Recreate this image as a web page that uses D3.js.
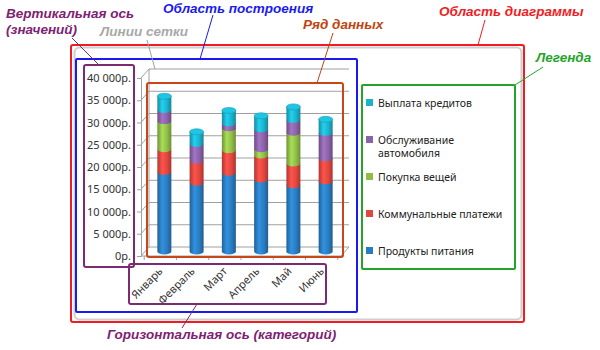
<html>
<head>
  <meta charset="utf-8">
  <title>Элементы диаграммы</title>
  <style>
    body { margin: 0; background: #fff; }
    .note { font-family: "Liberation Sans", Arial, sans-serif; font-size: 13.5px; font-weight: bold; font-style: italic; }
    .axis text { font-family: "Noto Sans", sans-serif; font-size: 11px; fill: #333; }
    .legend text { font-family: "Noto Sans", sans-serif; font-size: 10.5px; fill: #222; }
  </style>
  <script src="https://d3js.org/d3.v7.min.js"></script>
</head>
<body>
  <div id="chart"></div>

  <script>
    // Data
    const months = ["Январь", "Февраль", "Март", "Апрель", "Май", "Июнь"];
    const seriesNames = ["Продукты питания", "Коммунальные платежи", "Покупка вещей", "Обслуживание автомобиля", "Выплата кредитов"];
    const food = [17900, 15500, 17700, 16200, 14900, 15800];
    const utilities = [5100, 4900, 5100, 5400, 4900, 5100];
    const goods = [6300, 0, 4900, 1400, 6900, 0];
    const car = [2500, 3800, 1100, 4500, 2900, 5800];
    const credit = [3100, 2700, 2900, 3000, 2900, 3000];
    const yTicks = [0, 5000, 10000, 15000, 20000, 25000, 30000, 35000, 40000];
    const colors = ["#2a7cc0", "#e0473f", "#8fbd48", "#8b63a8", "#1cb2cc"];

    const seriesValues = [food, utilities, goods, car, credit];
    const keys = ["s0", "s1", "s2", "s3", "s4"];
    const table = months.map((m, i) => {
      const row = { month: m };
      keys.forEach((k, j) => row[k] = seriesValues[j][i]);
      return row;
    });

    const W = 600, H = 350;
    const svg = d3.select("#chart").append("svg")
      .attr("width", W).attr("height", H);
    const defs = svg.append("defs");

    // 3D offsets (front -> back wall, front -> middle depth)
    const dx = 8, dy = -9;
    const mx = 4, my = -4.5;

    const y = d3.scaleLinear().domain([0, 40000]).range([256, 78]);
    const x = d3.scaleBand().domain(months).range([141, 341]).paddingInner(0).paddingOuter(0.1);
    const x0 = 141, x1 = 341;

    // Excel chart area frame
    svg.append("rect").attr("x", 74.5).attr("y", 47.5).attr("width", 447).attr("height", 272)
      .attr("rx", 5).attr("fill", "#fff").attr("stroke", "#cfcfcf").attr("stroke-width", 2);

    // Walls and gridlines
    const grid = svg.append("g").attr("stroke", "#a0a0a0").attr("stroke-width", 1).attr("fill", "none");
    yTicks.forEach(t => {
      grid.append("line").attr("x1", x0 + dx).attr("x2", x1 + dx)
        .attr("y1", y(t) + dy).attr("y2", y(t) + dy);
      grid.append("line").attr("x1", x0).attr("x2", x0 + dx)
        .attr("y1", y(t)).attr("y2", y(t) + dy);
    });
    grid.append("line").attr("x1", x0 + dx).attr("x2", x0 + dx).attr("y1", y(0) + dy).attr("y2", y(40000) + dy);
    grid.append("line").attr("x1", x0).attr("x2", x1).attr("y1", y(0)).attr("y2", y(0));
    grid.append("line").attr("x1", x1).attr("x2", x1 + dx).attr("y1", y(0)).attr("y2", y(0) + dy);

    // Y axis
    const fmt = v => v === 0 ? "0р." : d3.format(",")(v).replace(/,/g, " ") + "р.";
    const yAxis = svg.append("g").attr("class", "axis")
      .attr("transform", `translate(${x0},0)`)
      .call(d3.axisLeft(y).tickValues(yTicks).tickFormat(fmt).tickSize(4).tickPadding(6));
    yAxis.select(".domain").attr("stroke", "#a0a0a0");
    yAxis.selectAll(".tick line").attr("stroke", "#a0a0a0");

    // X axis (category)
    const xAxis = svg.append("g").attr("class", "axis")
      .attr("transform", `translate(0,${y(0)})`)
      .call(d3.axisBottom(x).tickSize(0).tickPadding(0));
    xAxis.select(".domain").remove();
    xAxis.selectAll(".tick text")
      .attr("text-anchor", "end")
      .attr("dy", 0)
      .attr("transform", "translate(3,16) rotate(-45)");
    months.concat([null]).forEach((m, i) => {
      const xx = m ? x(m) : x(months[months.length - 1]) + x.bandwidth();
      svg.append("line").attr("x1", xx).attr("x2", xx).attr("y1", y(0)).attr("y2", y(0) + 4)
        .attr("stroke", "#a0a0a0");
    });

    // Cylinder gradients
    colors.forEach((c, i) => {
      const g = defs.append("linearGradient").attr("id", "cyl" + i)
        .attr("x1", 0).attr("x2", 1).attr("y1", 0).attr("y2", 0);
      const base = d3.color(c);
      g.append("stop").attr("offset", "0%").attr("stop-color", base.darker(0.7));
      g.append("stop").attr("offset", "35%").attr("stop-color", base.brighter(0.45));
      g.append("stop").attr("offset", "70%").attr("stop-color", base);
      g.append("stop").attr("offset", "100%").attr("stop-color", base.darker(0.8));
    });

    // Stacked cylinders
    const stack = d3.stack().keys(keys)(table);
    const rx = 7, ry = 3;
    const ym = v => y(v) + my;
    const cx = m => x(m) + x.bandwidth() / 2 + mx;
    const bars = svg.append("g");
    stack.forEach((layer, li) => {
      layer.forEach(d => {
        if (d[1] - d[0] <= 0) return;
        const c = cx(d.data.month);
        bars.append("path")
          .attr("d", `M${c - rx},${ym(d[1])} L${c - rx},${ym(d[0])} A${rx},${ry} 0 0 0 ${c + rx},${ym(d[0])} L${c + rx},${ym(d[1])} Z`)
          .attr("fill", `url(#cyl${li})`);
      });
    });
    // top caps
    table.forEach((row, i) => {
      const top = stack[stack.length - 1][i][1];
      bars.append("ellipse").attr("cx", cx(row.month)).attr("cy", ym(top))
        .attr("rx", rx).attr("ry", ry)
        .attr("fill", d3.color(colors[4]).brighter(0.3)).attr("stroke", d3.color(colors[4]).darker(0.4)).attr("stroke-width", 0.6);
    });

    // Legend
    const legendY = [251, 214, 177, 140, 103];
    const legend = svg.append("g").attr("class", "legend");
    seriesNames.forEach((name, i) => {
      const g = legend.append("g").attr("transform", `translate(366,${legendY[i]})`);
      g.append("rect").attr("x", 0).attr("y", -4).attr("width", 7).attr("height", 7).attr("fill", colors[i]);
      const t = g.append("text").attr("x", 12).attr("y", 0).attr("dy", "0.35em");
      if (name === "Обслуживание автомобиля") {
        t.append("tspan").attr("x", 12).text("Обслуживание");
        t.append("tspan").attr("x", 12).attr("dy", "1.3em").text("автомобиля");
      } else {
        t.text(name);
      }
    });

    // Annotation boxes
    const box = (bx, by, bw, bh, color, r) => svg.append("rect")
      .attr("x", bx).attr("y", by).attr("width", bw).attr("height", bh).attr("rx", r)
      .attr("fill", "none").attr("stroke", color).attr("stroke-width", 2);
    box(71, 45, 453, 277, "#f01c24", 2);
    box(76, 59, 281, 253, "#1a1af0", 1);
    box(84, 65, 50, 202, "#7d2a72", 2);
    box(129, 264, 197, 40, "#7d2a72", 2);
    box(147, 83, 196, 174, "#c8461a", 2);
    box(362, 85, 153, 184, "#22a52a", 1);

    // Annotation pointers
    const lead = (ax, ay, bx, by, color) => svg.append("line")
      .attr("x1", ax).attr("y1", ay).attr("x2", bx).attr("y2", by)
      .attr("stroke", color).attr("stroke-width", 1);
    lead(72, 38, 99, 65, "#7d2a72");
    lead(147, 40, 155, 69, "#a0a0a0");
    lead(213, 15, 200, 59, "#1a1af0");
    lead(333, 33, 317, 83, "#b04a1a");
    lead(485, 20, 478, 45, "#f01c24");
    lead(543, 67, 515, 85, "#22a52a");
    lead(197, 304, 182, 328, "#7d2a72");

    // Annotation texts
    const note = (tx, ty, str, color) => svg.append("text").attr("class", "note")
      .attr("x", tx).attr("y", ty).attr("fill", color).text(str);
    note(6, 18, "Вертикальная ось", "#7d2272");
    note(6, 34, "(значений)", "#7d2272");
    note(100, 36, "Линии сетки", "#a8a8a8");
    note(163, 13, "Область построения", "#1a1af0");
    note(303, 29, "Ряд данных", "#c0440e");
    note(439, 16, "Область диаграммы", "#f01c24");
    note(536, 62, "Легенда", "#1fa52a");
    note(107, 339, "Горизонтальная ось (категорий)", "#7d2272");
  </script>
</body>
</html>
